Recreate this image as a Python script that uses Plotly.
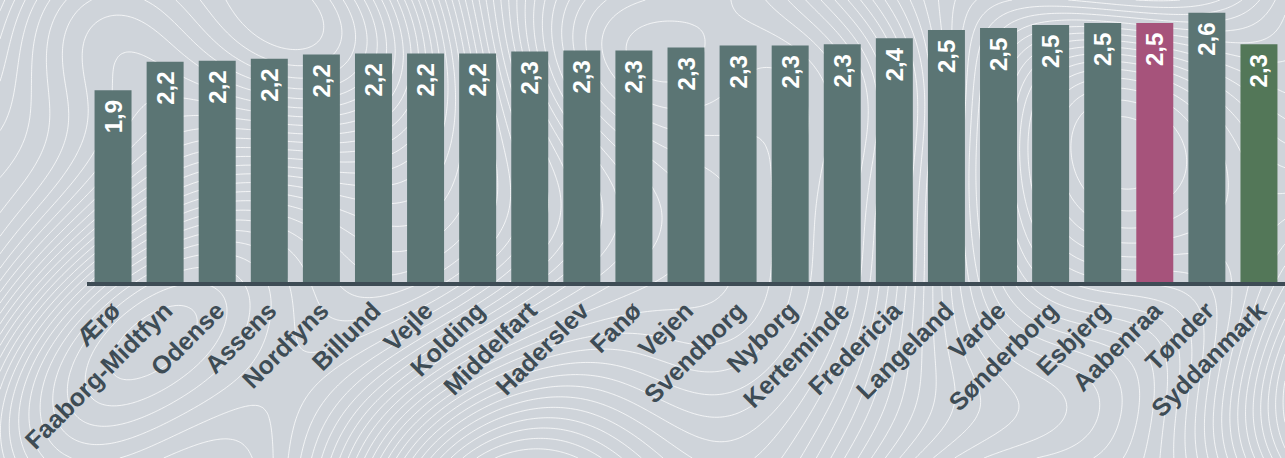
import numpy as np
import plotly.graph_objects as go

categories = ["Ærø", "Faaborg-Midtfyn", "Odense", "Assens", "Nordfyns", "Billund", "Vejle",
              "Kolding", "Middelfart", "Haderslev", "Fanø", "Vejen", "Svendborg", "Nyborg",
              "Kerteminde", "Fredericia", "Langeland", "Varde", "Sønderborg", "Esbjerg",
              "Aabenraa", "Tønder", "Syddanmark"]
values = [1.88, 2.16, 2.17, 2.19, 2.23, 2.24, 2.24, 2.24, 2.26, 2.27, 2.27, 2.30, 2.32, 2.32,
          2.33, 2.39, 2.47, 2.49, 2.52, 2.54, 2.54, 2.64, 2.33]
highlight = {"Aabenraa": "#a6537b", "Syddanmark": "#537758"}
base_color = "#5b7574"
colors = [highlight.get(c, base_color) for c in categories]

dark = "#3e4c55"
W, H = 1285, 458
L, B = 87, 176

# decorative topographic background texture (not data)
gx = np.linspace(0, 8.5, 260)
gy = np.linspace(0, 3.0, 100)
X, Y = np.meshgrid(gx, gy)
Z = (0.9 * X - 0.5 * Y
     + 0.8 * np.sin(1.3 * Y + 0.7 * X)
     + 0.6 * np.sin(2.1 * X + 1.1 * np.cos(1.7 * Y))
     + 0.35 * np.cos(1.6 * X - 2.4 * Y))

fig = go.Figure()
fig.add_trace(go.Contour(
    x=gx, y=gy, z=Z, xaxis="x", yaxis="y", showscale=False, hoverinfo="skip",
    contours=dict(coloring="none", start=-4, end=10, size=0.13),
    line=dict(color="rgba(255,255,255,0.75)", width=1, smoothing=1.3),
))
fig.add_trace(go.Bar(
    x=categories, y=values, xaxis="x2", yaxis="y2",
    marker=dict(color=colors, line=dict(width=0)),
    texttemplate="%{y:.1f}\u00a0", textposition="inside", insidetextanchor="end",
    textangle=-90, constraintext="none",
    textfont=dict(family="Liberation Sans", size=24, color="white", weight="bold"),
    hoverinfo="skip",
))
fig.update_layout(
    width=W, height=H, margin=dict(l=0, r=0, t=0, b=0, autoexpand=False),
    paper_bgcolor="#cfd4da", plot_bgcolor="rgba(0,0,0,0)",
    separators=",.", bargap=0.29, showlegend=False,
    xaxis=dict(domain=[0, 1], range=[0, 8.5], visible=False, showgrid=False, zeroline=False,
               automargin=False),
    yaxis=dict(domain=[0, 1], range=[0, 3.0], visible=False, showgrid=False, zeroline=False,
               automargin=False),
    xaxis2=dict(domain=[L / W, 1], anchor="y2", tickangle=-45, showgrid=False, showline=True,
                linecolor=dark, linewidth=4, ticks="", automargin=False,
                tickfont=dict(family="Liberation Sans", size=25, color=dark, weight="bold")),
    yaxis2=dict(domain=[B / H, 1], anchor="x2", range=[0, 2.765], visible=False,
                showgrid=False, zeroline=False, automargin=False),
)
fig.write_html("out.html", config={"displayModeBar": False},
               post_script="document.body.style.margin='0';document.body.style.overflow='hidden';")
